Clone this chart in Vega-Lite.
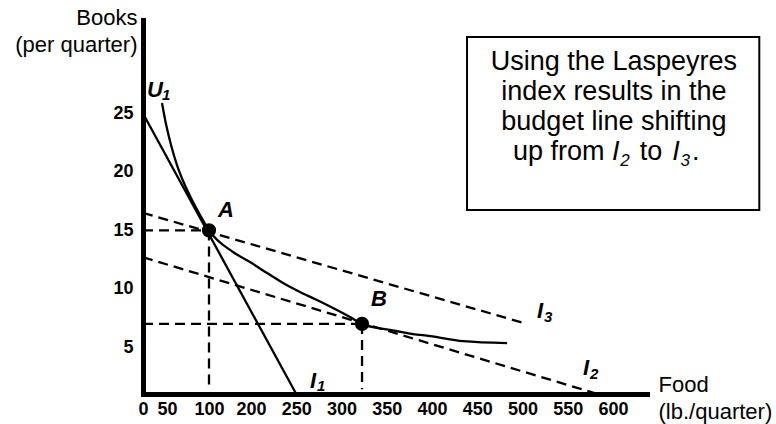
{
  "$schema": "https://vega.github.io/schema/vega-lite/v6.json",
  "width": 504,
  "height": 374,
  "autosize": {"type": "none"},
  "padding": {"left": 143, "top": 20, "right": 129, "bottom": 30},
  "background": "white",
  "config": {"view": {"stroke": null}, "font": "Liberation Sans"},
  "datasets": {
    "box": [{"x": 438.7, "y": 31.55, "x2": 763.5, "y2": 16.74}],
    "solid": [{"id": "I1", "x": 0, "y": 25, "x2": 250, "y2": 1}],
    "dashed": [
      {"id": "I2", "x": 0, "y": 12.7, "x2": 583, "y2": 1},
      {"id": "I3", "x": 0, "y": 16.5, "x2": 500, "y2": 7.1},
      {"id": "A-h", "x": 0, "y": 15, "x2": 100, "y2": 15},
      {"id": "A-v", "x": 100, "y": 15, "x2": 100, "y2": 1.6},
      {"id": "B-h", "x": 0, "y": 7, "x2": 322.7, "y2": 7},
      {"id": "B-v", "x": 322.7, "y": 7, "x2": 322.7, "y2": 1.4}
    ],
    "u1": [
      {"x": 39.6, "y": 25.9}, {"x": 47.9, "y": 24.1}, {"x": 54.8, "y": 22.3},
      {"x": 61.9, "y": 20.59}, {"x": 70.2, "y": 19.05}, {"x": 79.8, "y": 17.6},
      {"x": 89.3, "y": 16.32}, {"x": 100, "y": 15}, {"x": 157.1, "y": 13.15},
      {"x": 197.6, "y": 12.29}, {"x": 217.7, "y": 11.35}, {"x": 235.4, "y": 10.5},
      {"x": 254.1, "y": 9.73}, {"x": 272.9, "y": 9.04}, {"x": 290.6, "y": 8.36},
      {"x": 309.4, "y": 7.59}, {"x": 322.7, "y": 7}, {"x": 353.6, "y": 6.48},
      {"x": 379, "y": 6.13}, {"x": 397.8, "y": 5.96}, {"x": 434.3, "y": 5.53},
      {"x": 483, "y": 5.36}
    ],
    "points": [{"id": "A", "x": 100, "y": 15}, {"id": "B", "x": 322.7, "y": 7}],
    "labels": [
      {"t": "U", "x": 8.3, "y": 26.41},
      {"t": "A", "x": 121.4, "y": 16.14},
      {"t": "B", "x": 332.6, "y": 8.53},
      {"t": "I", "x": 265.2, "y": 1.51},
      {"t": "I", "x": 516, "y": 7.5},
      {"t": "I", "x": 566.9, "y": 2.63}
    ],
    "subs": [
      {"t": "1", "x": 39.6, "y": 26.16},
      {"t": "1", "x": 272.9, "y": 1.26},
      {"t": "3", "x": 523.8, "y": 7.16},
      {"t": "2", "x": 574.6, "y": 2.28}
    ],
    "boxlines": [
      {"t": "Using the Laspeyres", "x": 601, "y": 28.72},
      {"t": "index results in the", "x": 601, "y": 26.16},
      {"t": "budget line shifting", "x": 601, "y": 23.59}
    ],
    "boxplain": [
      {"t": "up from", "x": 489.5, "y": 21.02},
      {"t": "to", "x": 629.8, "y": 21.02},
      {"t": ".", "x": 688.4, "y": 21.02}
    ],
    "boxital": [
      {"t": "I", "x": 598.9, "y": 21.02},
      {"t": "I", "x": 666.3, "y": 21.02}
    ],
    "boxsubs": [
      {"t": "2", "x": 608, "y": 20.51},
      {"t": "3", "x": 675.5, "y": 20.51}
    ]
  },
  "encoding": {
    "x": {
      "field": "x", "type": "quantitative",
      "scale": {"type": "linear", "domain": [0, 50, 100, 200, 600, 638], "range": [0, 24, 66, 108, 470, 504], "nice": false, "zero": false},
      "axis": {
        "values": [0, 50, 100, 200, 250, 300, 350, 400, 450, 500, 550, 600],
        "format": "d", "grid": false, "ticks": false, "tickSize": 0,
        "domain": true, "domainColor": "black", "domainWidth": 5, "domainCap": "square",
        "labelFont": "Liberation Sans", "labelFontWeight": "bold", "labelFontSize": 18, "labelColor": "black",
        "labelPadding": 6, "labelOverlap": false, "labelFlush": false,
        "title": ["Food", "(lb./quarter)"], "titleFont": "Liberation Sans", "titleFontWeight": "normal", "titleFontSize": 22,
        "titleColor": "black", "titleAngle": 0, "titleAlign": "left", "titleBaseline": "alphabetic",
        "titleX": 515, "titleY": -3, "titleLineHeight": 27
      }
    },
    "y": {
      "field": "y", "type": "quantitative",
      "scale": {"domain": [1, 33], "nice": false, "zero": false},
      "axis": {
        "values": [5, 10, 15, 20, 25],
        "grid": false, "ticks": false, "tickSize": 0,
        "domain": true, "domainColor": "black", "domainWidth": 5, "domainCap": "square",
        "labelFont": "Liberation Sans", "labelFontWeight": "bold", "labelFontSize": 18, "labelColor": "black",
        "labelPadding": 10, "labelOverlap": false, "labelFlush": false,
        "title": ["Books", "(per quarter)"], "titleFont": "Liberation Sans", "titleFontWeight": "normal", "titleFontSize": 22,
        "titleColor": "black", "titleAngle": 0, "titleAlign": "right", "titleBaseline": "alphabetic",
        "titleX": -6, "titleY": 4, "titleLineHeight": 27
      }
    }
  },
  "layer": [
    {
      "data": {"name": "box"},
      "mark": {"type": "rect", "filled": false, "stroke": "black", "strokeWidth": 2},
      "encoding": {"x2": {"field": "x2"}, "y2": {"field": "y2"}}
    },
    {
      "data": {"name": "dashed"},
      "mark": {"type": "rule", "color": "black", "strokeWidth": 2.3, "strokeDash": [10, 6]},
      "encoding": {"x2": {"field": "x2"}, "y2": {"field": "y2"}, "detail": {"field": "id"}}
    },
    {
      "data": {"name": "solid"},
      "mark": {"type": "rule", "color": "black", "strokeWidth": 2.3},
      "encoding": {"x2": {"field": "x2"}, "y2": {"field": "y2"}}
    },
    {
      "data": {"name": "u1"},
      "mark": {"type": "line", "color": "black", "strokeWidth": 2.3, "interpolate": "monotone"},
      "encoding": {}
    },
    {
      "data": {"name": "points"},
      "mark": {"type": "circle", "color": "black", "opacity": 1, "size": 200},
      "encoding": {}
    },
    {
      "data": {"name": "labels"},
      "mark": {"type": "text", "align": "left", "baseline": "alphabetic", "font": "Liberation Sans", "fontSize": 22, "fontWeight": "bold", "fontStyle": "italic", "color": "black"},
      "encoding": {"text": {"field": "t"}}
    },
    {
      "data": {"name": "subs"},
      "mark": {"type": "text", "align": "left", "baseline": "alphabetic", "font": "Liberation Sans", "fontSize": 15, "fontWeight": "bold", "fontStyle": "italic", "color": "black"},
      "encoding": {"text": {"field": "t"}}
    },
    {
      "data": {"name": "boxlines"},
      "mark": {"type": "text", "align": "center", "baseline": "alphabetic", "font": "Liberation Sans", "fontSize": 27, "color": "black"},
      "encoding": {"text": {"field": "t"}}
    },
    {
      "data": {"name": "boxplain"},
      "mark": {"type": "text", "align": "left", "baseline": "alphabetic", "font": "Liberation Sans", "fontSize": 27, "color": "black"},
      "encoding": {"text": {"field": "t"}}
    },
    {
      "data": {"name": "boxital"},
      "mark": {"type": "text", "align": "left", "baseline": "alphabetic", "font": "Liberation Sans", "fontSize": 27, "fontStyle": "italic", "color": "black"},
      "encoding": {"text": {"field": "t"}}
    },
    {
      "data": {"name": "boxsubs"},
      "mark": {"type": "text", "align": "left", "baseline": "alphabetic", "font": "Liberation Sans", "fontSize": 17, "fontStyle": "italic", "color": "black"},
      "encoding": {"text": {"field": "t"}}
    }
  ]
}
